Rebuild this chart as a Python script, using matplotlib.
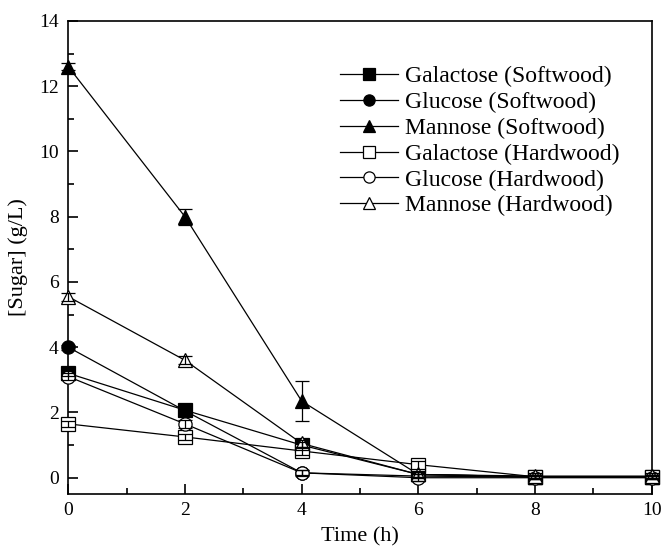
import matplotlib.pyplot as plt
from matplotlib.ticker import MultipleLocator

plt.rcParams['font.family'] = ['Liberation Serif', 'DejaVu Serif']

# Sampling times (h)
time = [0, 2, 4, 6, 8, 10]

# Sugar concentrations (g/L)
gal_soft = [3.2, 2.07, 1.0, 0.1, 0.03, 0.03]
glu_soft = [4.0, 2.05, 0.15, 0.05, 0.02, 0.02]
man_soft = [12.6, 8.0, 2.35, 0.1, 0.03, 0.03]
gal_hard = [1.65, 1.25, 0.82, 0.4, 0.03, 0.03]
glu_hard = [3.1, 1.65, 0.15, 0.0, 0.0, 0.0]
man_hard = [5.55, 3.6, 1.05, 0.1, 0.05, 0.05]

# Standard deviations
gal_soft_err = [0.08, 0.08, 0.1, 0.08, 0.05, 0.05]
glu_soft_err = [0.08, 0.1, 0.08, 0.05, 0.05, 0.05]
man_soft_err = [0.1, 0.25, 0.6, 0.08, 0.05, 0.05]
gal_hard_err = [0.1, 0.08, 0.12, 0.12, 0.05, 0.05]
glu_hard_err = [0.1, 0.12, 0.1, 0.1, 0.05, 0.05]
man_hard_err = [0.12, 0.12, 0.12, 0.1, 0.1, 0.1]

series = [
    (gal_soft, gal_soft_err, 's', 'black', 'Galactose (Softwood)'),
    (glu_soft, glu_soft_err, 'o', 'black', 'Glucose (Softwood)'),
    (man_soft, man_soft_err, '^', 'black', 'Mannose (Softwood)'),
    (gal_hard, gal_hard_err, 's', 'white', 'Galactose (Hardwood)'),
    (glu_hard, glu_hard_err, 'o', 'white', 'Glucose (Hardwood)'),
    (man_hard, man_hard_err, '^', 'white', 'Mannose (Hardwood)'),
]

fig = plt.figure(figsize=(6.63, 5.52), dpi=100)
ax = fig.add_axes([0.103, 0.105, 0.880, 0.857])

handles = []
for y, err, m, fc, label in series:
    line, = ax.plot(time, y, marker=m, color='black', markerfacecolor=fc,
                    markeredgecolor='black', markersize=9.5, linewidth=0.9,
                    markeredgewidth=0.9, label=label, clip_on=False, zorder=3)
    ax.errorbar(time, y, yerr=err, fmt='none', ecolor='black', elinewidth=0.9,
                capsize=5, capthick=0.9, clip_on=False, zorder=4)
    handles.append(line)

ax.set_xlim(0, 10)
ax.set_ylim(-0.5, 14)
ax.xaxis.set_major_locator(MultipleLocator(2))
ax.xaxis.set_minor_locator(MultipleLocator(1))
ax.yaxis.set_major_locator(MultipleLocator(2))
ax.yaxis.set_minor_locator(MultipleLocator(1))
ax.tick_params(which='both', direction='in', labelsize=14, width=1.2)
ax.tick_params(which='major', length=7)
ax.tick_params(which='minor', length=4)
ax.tick_params(axis='x', pad=6)
ax.tick_params(axis='y', pad=7)
for s in ax.spines.values():
    s.set_linewidth(1.2)

ax.set_xlabel('Time (h)', fontsize=16, labelpad=6)
ax.set_ylabel('[Sugar] (g/L)', fontsize=16, labelpad=8)

ax.legend(handles=handles, loc='upper left', bbox_to_anchor=(0.466, 0.905),
          frameon=False, fontsize=17, handlelength=2.45, handletextpad=0.3,
          labelspacing=0.18, borderpad=0, borderaxespad=0, markerscale=0.85)

plt.savefig('out.png', dpi=100)
